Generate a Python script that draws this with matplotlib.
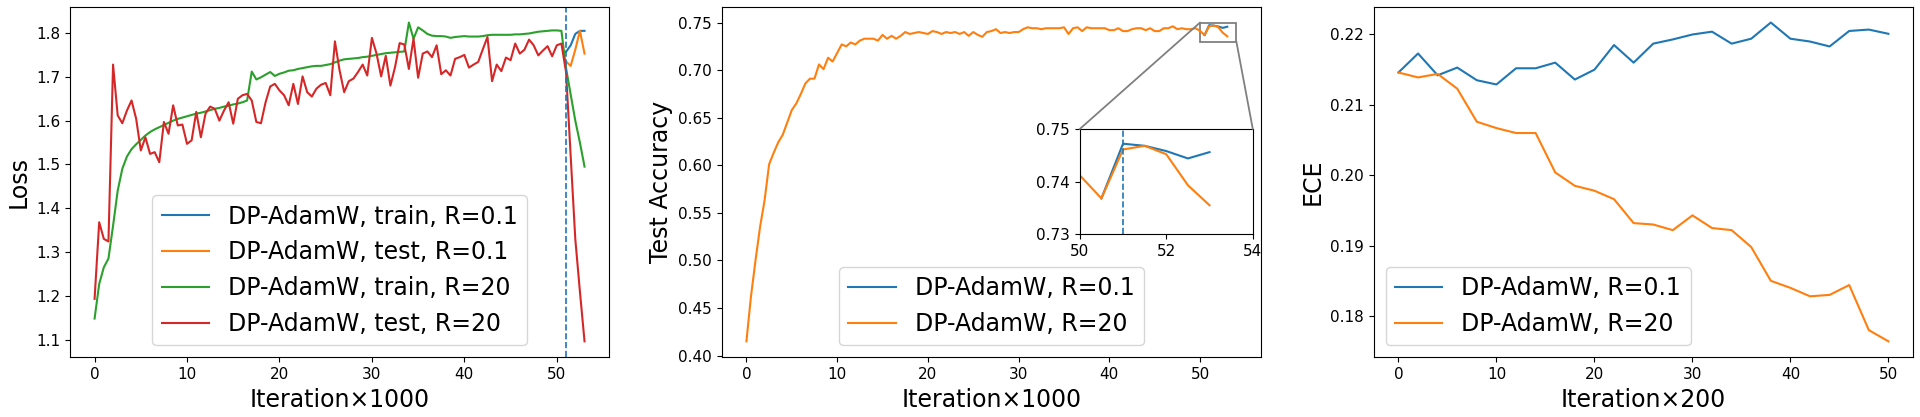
import numpy as np
import matplotlib
matplotlib.use("Agg")
import matplotlib.pyplot as plt
from matplotlib.patches import ConnectionPatch, Rectangle

# ---- data ----
# left panel: loss, x step 0.5 (x1000 iterations)
loss_train_r20 = [1.148, 1.227, 1.265, 1.285, 1.36, 1.44, 1.49, 1.518, 1.535, 1.546,
                  1.556, 1.566, 1.574, 1.58, 1.585, 1.59, 1.595, 1.6, 1.604, 1.607,
                  1.61, 1.613, 1.616, 1.618, 1.621, 1.624, 1.627, 1.629, 1.632, 1.634,
                  1.637, 1.639, 1.642, 1.646, 1.712, 1.694, 1.699, 1.705, 1.711, 1.702,
                  1.707, 1.71, 1.714, 1.715, 1.718, 1.72, 1.722, 1.724, 1.725, 1.725,
                  1.727, 1.729, 1.733, 1.737, 1.740, 1.741, 1.742, 1.743, 1.745, 1.746,
                  1.748, 1.75, 1.752, 1.754, 1.755, 1.756, 1.757, 1.758, 1.824, 1.787,
                  1.813, 1.806, 1.798, 1.794, 1.793, 1.793, 1.792, 1.789, 1.791, 1.792,
                  1.793, 1.792, 1.792, 1.792, 1.793, 1.795, 1.796, 1.796, 1.796, 1.796,
                  1.796, 1.797, 1.797, 1.798, 1.799, 1.801, 1.803, 1.804, 1.805, 1.806,
                  1.806, 1.805, 1.72, 1.66, 1.60, 1.55, 1.495]
loss_test_r20 = [1.193, 1.368, 1.330, 1.324, 1.728, 1.612, 1.594, 1.623, 1.646, 1.604,
                 1.532, 1.562, 1.524, 1.528, 1.505, 1.597, 1.570, 1.635, 1.589, 1.591,
                 1.547, 1.555, 1.620, 1.562, 1.616, 1.632, 1.627, 1.600, 1.623, 1.642,
                 1.593, 1.650, 1.658, 1.661, 1.646, 1.597, 1.594, 1.642, 1.678, 1.684,
                 1.669, 1.658, 1.635, 1.684, 1.638, 1.701, 1.665, 1.655, 1.673, 1.682,
                 1.686, 1.658, 1.781, 1.715, 1.665, 1.690, 1.696, 1.711, 1.728, 1.703,
                 1.789, 1.753, 1.701, 1.748, 1.680, 1.722, 1.777, 1.774, 1.718, 1.787,
                 1.698, 1.753, 1.758, 1.745, 1.772, 1.706, 1.715, 1.703, 1.741, 1.745,
                 1.750, 1.721, 1.728, 1.734, 1.763, 1.791, 1.690, 1.728, 1.713, 1.744,
                 1.738, 1.776, 1.753, 1.762, 1.785, 1.772, 1.749, 1.760, 1.770, 1.747,
                 1.772, 1.776, 1.711, 1.52, 1.33, 1.21, 1.096]
loss_x_r01 = [51, 51.5, 52, 52.5, 53]
loss_train_r01 = [1.757, 1.772, 1.798, 1.805, 1.805]
loss_test_r01 = [1.735, 1.725, 1.762, 1.805, 1.753]

# middle panel: test accuracy
acc_r20 = [0.415, 0.462, 0.500, 0.535, 0.563, 0.601, 0.613, 0.624, 0.632, 0.645,
           0.658, 0.665, 0.675, 0.686, 0.691, 0.691, 0.706, 0.701, 0.713, 0.709,
           0.718, 0.727, 0.725, 0.729, 0.727, 0.731, 0.733, 0.733, 0.733, 0.731,
           0.737, 0.733, 0.736, 0.733, 0.736, 0.740, 0.738, 0.739, 0.740, 0.739,
           0.738, 0.741, 0.740, 0.738, 0.740, 0.739, 0.740, 0.738, 0.740, 0.736,
           0.740, 0.737, 0.735, 0.740, 0.741, 0.743, 0.739, 0.740, 0.739, 0.740,
           0.740, 0.743, 0.745, 0.744, 0.744, 0.743, 0.744, 0.744, 0.744, 0.744,
           0.745, 0.738, 0.744, 0.745, 0.741, 0.745, 0.744, 0.744, 0.744, 0.744,
           0.742, 0.742, 0.744, 0.741, 0.741, 0.743, 0.744, 0.744, 0.742, 0.744,
           0.741, 0.741, 0.744, 0.744, 0.746, 0.743, 0.744, 0.743, 0.743, 0.744,
           0.7412, 0.7368, 0.7461, 0.7468, 0.7452, 0.7393, 0.7355]
acc_x_r01 = [50.5, 51, 51.5, 52, 52.5, 53]
acc_r01 = [0.7368, 0.7472, 0.7468, 0.7458, 0.7444, 0.7456]

# right panel: ECE, x step 2 (x200 iterations)
ece_x = [0, 2, 4, 6, 8, 10, 12, 14, 16, 18, 20, 22, 24, 26, 28, 30, 32, 34, 36, 38,
         40, 42, 44, 46, 48, 50]
ece_r01 = [0.2146, 0.2173, 0.2142, 0.2153, 0.2135, 0.2129, 0.2152, 0.2152, 0.2160, 0.2136,
           0.2150, 0.2185, 0.2160, 0.2187, 0.2193, 0.2200, 0.2204, 0.2187, 0.2194, 0.2217,
           0.2194, 0.2190, 0.2183, 0.2205, 0.2207, 0.2201]
ece_r20 = [0.2146, 0.2139, 0.2144, 0.2123, 0.2076, 0.2067, 0.2060, 0.2060, 0.2004, 0.1985,
           0.1978, 0.1966, 0.1932, 0.1930, 0.1922, 0.1943, 0.1925, 0.1922, 0.1898, 0.1850,
           0.1840, 0.1828, 0.1830, 0.1844, 0.1780, 0.1764]

switch_x = 51

loss_x = np.arange(len(loss_train_r20)) * 0.5
acc_x = np.arange(len(acc_r20)) * 0.5

plt.rcParams['font.family'] = ['DejaVu Sans']
fs_lab = 17
fs_tick = 11

fig = plt.figure(figsize=(19.2, 4.17), dpi=100)
ax1 = fig.add_axes([0.0365, 0.1432, 0.2807, 0.841])
ax2 = fig.add_axes([0.3760, 0.1432, 0.2807, 0.841])
ax3 = fig.add_axes([0.7156, 0.1432, 0.2807, 0.841])

# (1) loss
ax1.plot(loss_x_r01, loss_train_r01, color='C0', label='DP-AdamW, train, R=0.1')
ax1.plot(loss_x_r01, loss_test_r01, color='C1', label='DP-AdamW, test, R=0.1')
ax1.plot(loss_x, loss_train_r20, color='C2', label='DP-AdamW, train, R=20')
ax1.plot(loss_x, loss_test_r20, color='C3', label='DP-AdamW, test, R=20')
ax1.axvline(switch_x, color='C0', ls='--', lw=1.2)
ax1.set_ylabel('Loss', fontsize=fs_lab)
ax1.set_xlabel('Iteration×1000', fontsize=fs_lab)
ax1.legend(loc='lower center', fontsize=fs_lab)

# (2) test accuracy + zoomed inset
ax2.plot(acc_x_r01, acc_r01, color='C0', label='DP-AdamW, R=0.1')
ax2.plot(acc_x, acc_r20, color='C1', label='DP-AdamW, R=20')
ax2.set_ylabel('Test Accuracy', fontsize=fs_lab)
ax2.set_xlabel('Iteration×1000', fontsize=fs_lab)
ax2.legend(loc='lower center', fontsize=fs_lab)

axins = ax2.inset_axes([0.664, 0.351, 0.321, 0.30])
axins.plot(acc_x_r01, acc_r01, color='C0')
axins.plot(acc_x, acc_r20, color='C1')
axins.axvline(switch_x, color='C0', ls='--', lw=1.2)
axins.set_xlim(50, 54)
axins.set_ylim(0.73, 0.75)
axins.set_xticks([50, 52, 54])
axins.set_yticks([0.73, 0.74, 0.75])
axins.tick_params(labelsize=fs_tick)

x0, x1 = axins.get_xlim()
y0, y1 = axins.get_ylim()
ax2.add_patch(Rectangle((x0, y0), x1 - x0, y1 - y0, fill=False, ec='0.5', lw=1.3))
for xyA, xyB in [((x0, y1), (0, 1)), ((x1, y0), (1, 1))]:
    con = ConnectionPatch(xyA=xyA, coordsA=ax2.transData, xyB=xyB, coordsB=axins.transAxes,
                          color='0.5', lw=1.3)
    fig.add_artist(con)

# (3) ECE
ax3.plot(ece_x, ece_r01, color='C0', label='DP-AdamW, R=0.1')
ax3.plot(ece_x, ece_r20, color='C1', label='DP-AdamW, R=20')
ax3.set_ylabel('ECE', fontsize=fs_lab)
ax3.set_xlabel('Iteration×200', fontsize=fs_lab)
ax3.legend(loc='lower left', fontsize=fs_lab)

for ax in (ax1, ax2, ax3):
    ax.tick_params(labelsize=fs_tick)

fig.savefig('out.png', dpi=100)
